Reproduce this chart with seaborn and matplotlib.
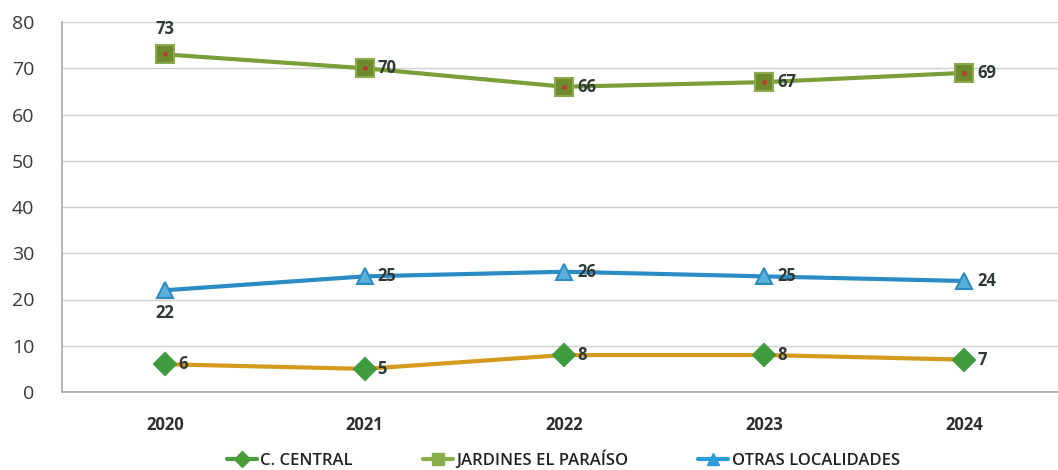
import matplotlib
matplotlib.use("Agg")
import matplotlib.pyplot as plt
import seaborn as sns
import pandas as pd
from matplotlib.lines import Line2D

years = ["2020", "2021", "2022", "2023", "2024"]
central = [6, 5, 8, 8, 7]
jardines = [73, 70, 66, 67, 69]
otras = [22, 25, 26, 25, 24]
series_names = ["C. CENTRAL", "JARDINES EL PARAÍSO", "OTRAS LOCALIDADES"]
y_ticks = [0, 10, 20, 30, 40, 50, 60, 70, 80]

sns.set_theme(style="white")
plt.rcParams['font.family'] = ['Open Sans', 'DejaVu Sans']

fig = plt.figure(figsize=(10.58, 4.70), dpi=100)
ax = fig.add_axes([62/1058, 1-392/470, 1-62/1058, 370/470])

xpos = list(range(len(years)))
df = pd.DataFrame({"x": xpos * 3,
                   "y": central + jardines + otras,
                   "s": [series_names[0]]*5 + [series_names[1]]*5 + [series_names[2]]*5})

styles = {
    series_names[0]: dict(line="#D49A1E", marker="D", mfc="#3E9B3E", mec="#3E9B3E", ms=11, leg="#4A9E3A"),
    series_names[1]: dict(line="#7A9E3A", marker="s", mfc="#6E8A2C", mec="#8AAA50", ms=13, leg="#8AAE4A"),
    series_names[2]: dict(line="#2B8CC4", marker="^", mfc="#5AB0DA", mec="#2B8CC4", ms=12, leg="#2B9CD8"),
}

for name in series_names:
    st = styles[name]
    sub = df[df.s == name]
    sns.lineplot(data=sub, x="x", y="y", ax=ax, color=st["line"], lw=3,
                 marker=st["marker"], markersize=st["ms"], markerfacecolor=st["mfc"],
                 markeredgecolor=st["mec"], markeredgewidth=1.5, legend=False, zorder=3)

# red dot in the center of jardines markers
ax.scatter(xpos, jardines, s=6, color="#C0392B", zorder=5)

lab_kw = dict(fontsize=12, fontweight="bold", color="#2F3A35", zorder=6)
for i, v in enumerate(jardines):
    if i == 0:
        ax.text(i, v + 3.6, str(v), ha="center", va="bottom", **lab_kw)
    else:
        ax.text(i + 0.065, v, str(v), ha="left", va="center", **lab_kw)
for i, v in enumerate(otras):
    if i == 0:
        ax.text(i, v - 3, str(v), ha="center", va="top", **lab_kw)
    else:
        ax.text(i + 0.065, v, str(v), ha="left", va="center", **lab_kw)
for i, v in enumerate(central):
    ax.text(i + 0.065, v, str(v), ha="left", va="center", **lab_kw)

ax.set_xlim(-0.515, 4.47)
ax.set_ylim(0, 80)
ax.set_yticks(y_ticks)
ax.set_yticklabels([str(t) for t in y_ticks], fontsize=14, color="#3A3A3A")
ax.set_xticks(xpos)
ax.set_xticklabels(years, fontsize=12, fontweight="bold", color="#2F2F2F")
ax.set_xticks([i + 0.5 for i in range(4)], minor=True)
ax.tick_params(axis="x", which="major", length=0, pad=17)
ax.tick_params(axis="x", which="minor", length=6, color="#999999", direction="out")
ax.tick_params(axis="y", length=0, pad=20)
ax.grid(axis="y", color="#D0D0D0", lw=1)
ax.set_xlabel("")
ax.set_ylabel("")
for sp in ["top", "right"]:
    ax.spines[sp].set_visible(False)
ax.spines["left"].set_color("#AAAAAA")
ax.spines["bottom"].set_color("#AAAAAA")

handles = [Line2D([0], [0], color=styles[n]["leg"], lw=3, marker=styles[n]["marker"],
                  markersize=8, markerfacecolor=styles[n]["leg"], markeredgecolor=styles[n]["leg"])
           for n in series_names]
fig.legend(handles, series_names, loc="center", bbox_to_anchor=(0.5326, 1-460/470), ncol=3,
           frameon=False, fontsize=12, handlelength=1.8, handletextpad=0.2, columnspacing=4.2,
           labelcolor="#222222", prop={"weight": "semibold", "size": 12})

fig.savefig("out.png", dpi=100)
